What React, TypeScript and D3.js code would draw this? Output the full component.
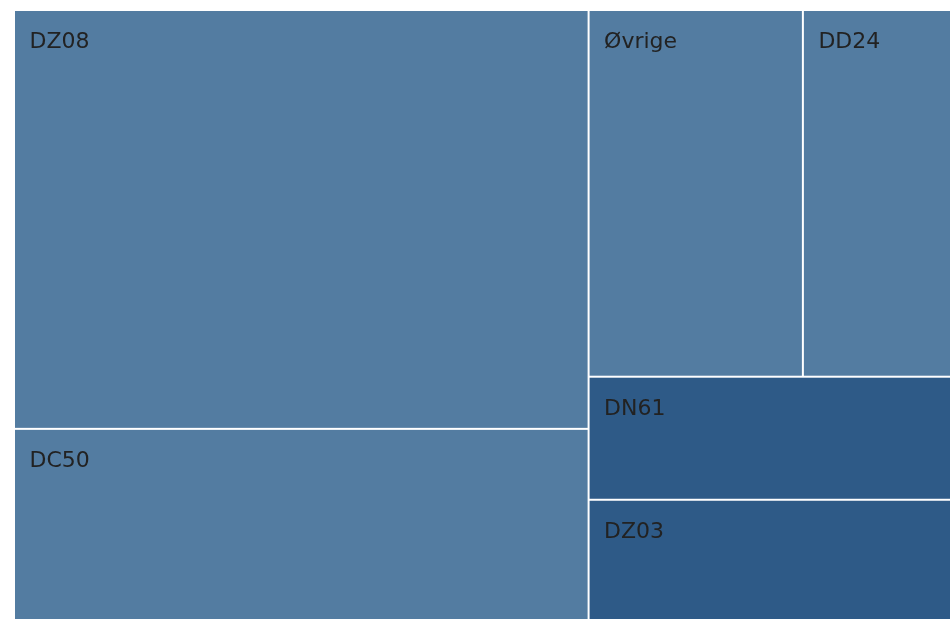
import React from "react";
import * as d3 from "d3";

const categories = ["DZ08", "DC50", "Øvrige", "DD24", "DN61", "DZ03"];
const values = [2392, 1103, 781, 569, 453, 450];
const colors = ["#537ca1", "#537ca1", "#537ca1", "#537ca1", "#2e5a87", "#2e5a87"];

const X0 = 15;
const Y0 = 11;
const TW = 943;
const TH = 610;

export default function App() {
  const root = d3
    .hierarchy({ name: "root", children: categories.map((c, i) => ({ name: c, value: values[i], color: colors[i] })) } as any)
    .sum((d: any) => d.value || 0);
  d3.treemap().size([TW, TH]).paddingInner(2).tile(d3.treemapSquarify)(root as any);
  const leaves = root.leaves() as any[];
  return (
    <div style={{ position: "fixed", left: 0, top: 0, width: 950, height: 619, overflow: "hidden" }}>
      <svg width={970} height={640} style={{ display: "block" }}>
        <g transform={`translate(${X0},${Y0})`}>
          {leaves.map((l) => (
            <g key={l.data.name}>
              <rect x={l.x0} y={l.y0} width={l.x1 - l.x0} height={l.y1 - l.y0} fill={l.data.color} />
              <text x={l.x0 + 14.5} y={l.y0 + 37} fontFamily="DejaVu Sans" fontSize={22} fill="#222">
                {l.data.name}
              </text>
            </g>
          ))}
        </g>
      </svg>
    </div>
  );
}
